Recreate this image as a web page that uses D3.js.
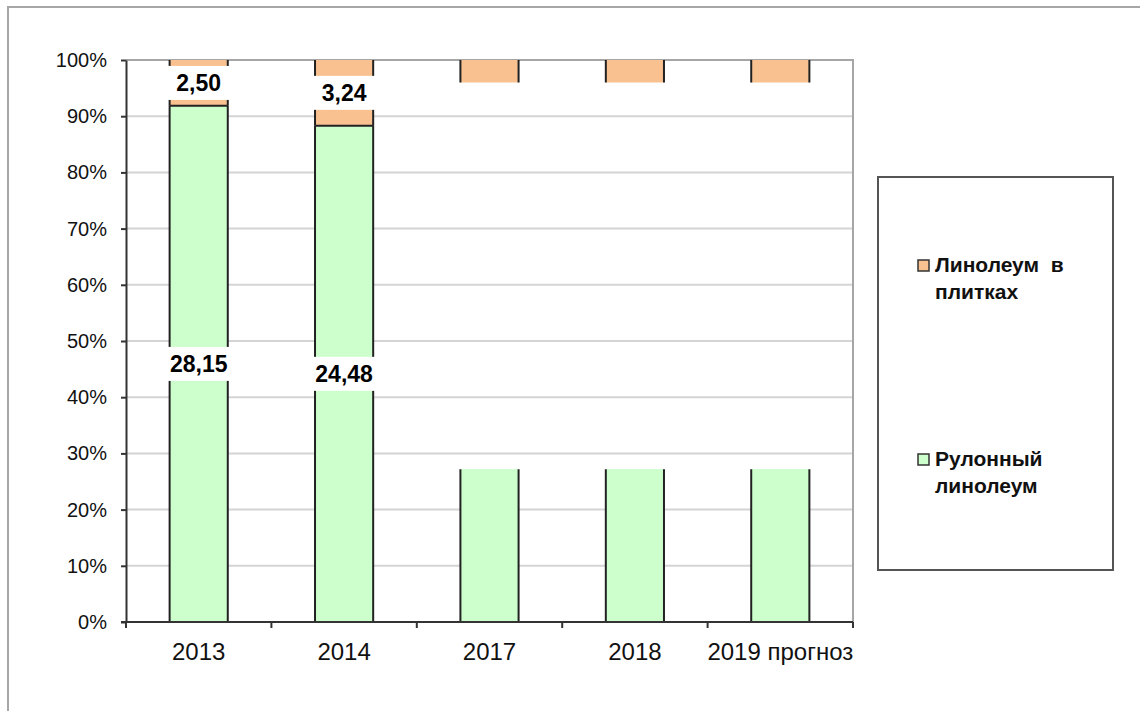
<!DOCTYPE html>
<html>
<head>
<meta charset="utf-8">
<script src="https://d3js.org/d3.v7.min.js"></script>
<style>
    body { margin: 0; background: #fff; }
    svg { display: block; font-family: "Liberation Sans", Arial, sans-serif; }
</style>
</head>
<body>
<svg id="chart" width="1140" height="711"></svg>
<script>
    // data
    var years = ["2013", "2014", "2017", "2018", "2019 прогноз"];
    var rolled = [28.15, 24.48, 27.2, 27.2, 27.2];   // Рулонный линолеум
    var gap = [0, 0, 68.8, 68.8, 68.8];              // unfilled part of the later bars
    var tiles = [2.50, 3.24, 4.0, 4.0, 4.0];         // Линолеум в плитках
    var showLabel = [true, true, false, false, false];
    var yTicks = [0, 0.1, 0.2, 0.3, 0.4, 0.5, 0.6, 0.7, 0.8, 0.9, 1];

    var green = "#ccffcc", orange = "#f9c090";
    var margin = {top: 60, right: 287, bottom: 89, left: 126};

    var svg = d3.select("#chart");
    var width = +svg.attr("width"), height = +svg.attr("height");

    var rows = years.map((y, i) => ({year: y, rolled: rolled[i], gap: gap[i], tiles: tiles[i], label: showLabel[i]}));
    var series = d3.stack()
        .keys(["rolled", "gap", "tiles"])
        .offset(d3.stackOffsetExpand)(rows);

    var x = d3.scaleBand()
        .domain(years)
        .range([margin.left, width - margin.right])
        .paddingInner(0.6)
        .paddingOuter(0.3);
    var y = d3.scaleLinear()
        .domain([0, 1])
        .range([height - margin.bottom, margin.top]);

    // outer frame
    svg.append("path")
        .attr("d", `M8,${height}V7H${width}`)
        .attr("fill", "none")
        .attr("stroke", "#a6a6a6")
        .attr("stroke-width", 2);

    // gridlines
    svg.append("g")
        .selectAll("line")
        .data(yTicks.slice(1, -1))
        .join("line")
        .attr("x1", margin.left).attr("x2", width - margin.right)
        .attr("y1", d => y(d)).attr("y2", d => y(d))
        .attr("stroke", "#d4d4d4")
        .attr("stroke-width", 2);

    // plot area border (top + right)
    svg.append("path")
        .attr("d", `M${margin.left},${y(1)}H${width - margin.right}V${y(0)}`)
        .attr("fill", "none")
        .attr("stroke", "#a6a6a6")
        .attr("stroke-width", 2);

    var bw = x.bandwidth();
    var colors = {rolled: green, tiles: orange};
    var bars = svg.append("g");
    series.filter(s => s.key !== "gap").forEach(function(s) {
        var g = bars.append("g");
        g.selectAll("rect")
            .data(s)
            .join("rect")
            .attr("x", d => x(d.data.year))
            .attr("y", d => y(d[1]))
            .attr("width", bw)
            .attr("height", d => y(d[0]) - y(d[1]))
            .attr("fill", colors[s.key]);
        // side edges
        g.selectAll("path")
            .data(s)
            .join("path")
            .attr("d", d => `M${x(d.data.year)},${y(d[0])}V${y(d[1])}M${x(d.data.year) + bw},${y(d[0])}V${y(d[1])}`)
            .attr("stroke", "#222")
            .attr("stroke-width", 2);
    });
    // edge between green and orange where they touch
    bars.append("g")
        .selectAll("line")
        .data(series[0].filter(d => d.data.gap === 0))
        .join("line")
        .attr("x1", d => x(d.data.year)).attr("x2", d => x(d.data.year) + bw)
        .attr("y1", d => y(d[1])).attr("y2", d => y(d[1]))
        .attr("stroke", "#222")
        .attr("stroke-width", 2);

    // axes
    var yAxis = svg.append("g")
        .attr("transform", `translate(${margin.left},0)`)
        .call(d3.axisLeft(y).tickValues(yTicks).tickFormat(d3.format(".0%")).tickSize(5).tickPadding(14).tickSizeOuter(0));
    yAxis.select(".domain").attr("stroke", "#333").attr("stroke-width", 2);
    yAxis.selectAll(".tick line").attr("stroke", "#333").attr("stroke-width", 2);
    yAxis.selectAll("text").attr("font-size", 20).attr("fill", "#111");

    var xAxis = svg.append("g")
        .attr("transform", `translate(0,${y(0)})`)
        .call(d3.axisBottom(x).tickSize(0).tickPadding(21).tickSizeOuter(0));
    xAxis.select(".domain").attr("stroke", "#333").attr("stroke-width", 2)
        .attr("d", `M${margin.left - 5},0H${width - margin.right}`);
    xAxis.selectAll("text").attr("font-size", 24).attr("fill", "#111");
    var off = (x.step() - bw) / 2;
    var bounds = years.map(d => x(d) - off).concat([x(years[years.length - 1]) + bw + off]);
    xAxis.append("g")
        .selectAll("line")
        .data(bounds)
        .join("line")
        .attr("x1", d => d).attr("x2", d => d)
        .attr("y1", 0).attr("y2", 6)
        .attr("stroke", "#333")
        .attr("stroke-width", 2);

    // value labels
    var fmt = v => d3.format(".2f")(v).replace(".", ",");
    var labels = svg.append("g")
        .attr("font-size", 23)
        .attr("font-weight", "bold");
    series.filter(s => s.key !== "gap").forEach(function(s) {
        s.filter(d => d.data.label).forEach(function(d) {
            var cx = x(d.data.year) + bw / 2;
            var cy = (y(d[0]) + y(d[1])) / 2;
            var g = labels.append("g");
            var t = g.append("text")
                .attr("x", cx).attr("y", cy)
                .attr("text-anchor", "middle")
                .attr("dy", "0.36em")
                .attr("fill", "#000")
                .text(fmt(d.data[s.key]));
            var w = t.node().getComputedTextLength();
            g.insert("rect", "text")
                .attr("x", cx - Math.max(w + 10, bw + 4) / 2)
                .attr("y", cy - 17)
                .attr("width", Math.max(w + 10, bw + 4))
                .attr("height", 34)
                .attr("fill", "#fff");
        });
    });

    // legend
    var legend = svg.append("g");
    legend.append("rect")
        .attr("x", 878).attr("y", 177)
        .attr("width", 235).attr("height", 393)
        .attr("fill", "#fff")
        .attr("stroke", "#555")
        .attr("stroke-width", 2);
    var legendItems = [
        {lines: ["Линолеум  в", "плитках"], color: orange, y: 272},
        {lines: ["Рулонный", "линолеум"], color: green, y: 466}
    ];
    var li = legend.selectAll("g.item")
        .data(legendItems)
        .join("g")
        .attr("class", "item");
    li.append("rect")
        .attr("x", 918).attr("y", d => d.y - 12)
        .attr("width", 11).attr("height", 11)
        .attr("fill", d => d.color)
        .attr("stroke", "#333")
        .attr("stroke-width", 1.5);
    li.append("text")
        .attr("x", 935).attr("y", d => d.y)
        .attr("font-size", 21)
        .attr("font-weight", "bold")
        .attr("fill", "#111")
        .style("white-space", "pre")
        .selectAll("tspan")
        .data(d => d.lines)
        .join("tspan")
        .attr("x", 935)
        .attr("dy", (d, i) => i ? 27 : 0)
        .text(d => d);
</script>
</body>
</html>
